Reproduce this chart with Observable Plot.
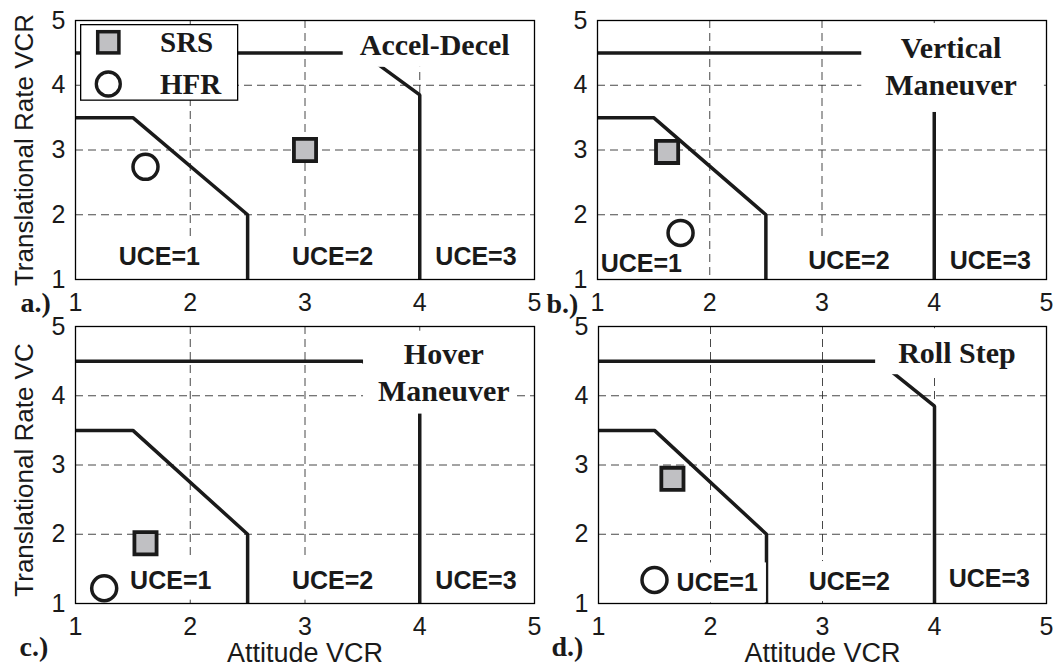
<!DOCTYPE html>
<html><head><meta charset="utf-8">
<script src="https://cdn.jsdelivr.net/npm/d3@7"></script>
<script src="https://cdn.jsdelivr.net/npm/@observablehq/plot@0.6"></script>
<style>
html,body{margin:0;padding:0;background:#fff;}
#chart{position:relative;width:1056px;height:666px;overflow:hidden;background:#fff;}
#chart svg.panel{position:absolute;left:0;top:0;}
#legend{position:absolute;left:80px;top:24px;}
</style></head><body><div id="chart"></div>
<script>
// ---------- data ----------
const xTicks = [1, 2, 3, 4, 5];
const yTicks = [1, 2, 3, 4, 5];
const gridValues = [2, 3, 4];
// UCE boundaries (same in all four panels)
const boundary12X = [1, 1.5, 2.5, 2.5];
const boundary12Y = [3.5, 3.5, 2, 1];
const boundary23X = [1, 3.5, 4, 4];
const boundary23Y = [4.5, 4.5, 3.85, 1];
// panels a..d
const panelLabels = ["a.)", "b.)", "c.)", "d.)"];
const titles = ["Accel-Decel", "Vertical\nManeuver", "Hover\nManeuver", "Roll Step"];
const titleX = [4.13, 4.15, 4.21, 4.2];
const titleY = [4.47, 3.85, 3.93, 4.47];
const srsX = [3.0, 1.62, 1.61, 1.66];
const srsY = [3.0, 2.97, 1.87, 2.8];
const hfrX = [1.61, 1.74, 1.25, 1.5];
const hfrY = [2.74, 1.72, 1.22, 1.34];
const uceLabels = ["UCE=1", "UCE=2", "UCE=3"];
const uceX = [[1.73, 3.24, 4.49], [1.39, 3.24, 4.5], [1.83, 3.24, 4.49], [2.06, 3.24, 4.49]];
const uceY = [[1.34, 1.34, 1.34], [1.24, 1.29, 1.29], [1.33, 1.33, 1.33], [1.29, 1.31, 1.35]];
const yLabels = ["Translational Rate VCR", null, "Translational Rate VC", null];
const xLabels = [null, null, "Attitude VCR", "Attitude VCR"];
const legendNames = ["SRS", "HFR"];

// ---------- layout / style ----------
const W = 1056, H = 666;
const layout = [
  {left: 75, right: 534, top: 20, bottom: 279, pdx: -55, pdy: 32, ydy: 0},
  {left: 597, right: 1046, top: 20, bottom: 279, pdx: -51, pdy: 33, ydy: 0},
  {left: 75, right: 534, top: 326, bottom: 603, pdx: -56, pdy: 52, ydy: 5},
  {left: 598, right: 1046, top: 326, bottom: 603, pdx: -47, pdy: 52, ydy: 0}
];
const titlePad = [[17, 17, 8, 6], [24, 27, 8, 11], [15, 7, 6, 7], [23, 23, 8, 5]]; // l r t b
const ucePad = [8, 8, 6, 6];
const SANS = "'Liberation Sans', Arial, sans-serif";
const SERIF = "'Liberation Serif', 'Times New Roman', serif";
const INK = "#1a1a1a";

const pts = (xs, ys) => xs.map((x, k) => ({x, y: ys[k]}));
const fmt = d => String(d);

function panel(i) {
  const L = layout[i];
  const uce = uceLabels.map((t, j) => ({x: uceX[i][j], y: uceY[i][j], t}));
  const marks = [
    Plot.ruleX(gridValues, {stroke: "#333", strokeWidth: 0.9, strokeDasharray: "8,5"}),
    Plot.ruleY(gridValues, {stroke: "#333", strokeWidth: 0.9, strokeDasharray: "8,5"}),
    Plot.line(pts(boundary12X, boundary12Y), {x: "x", y: "y", stroke: INK, strokeWidth: 3.5, strokeLinejoin: "miter", strokeLinecap: "butt"}),
    Plot.line(pts(boundary23X, boundary23Y), {x: "x", y: "y", stroke: INK, strokeWidth: 3.5, strokeLinejoin: "miter", strokeLinecap: "butt"}),
    Plot.text(uce, {x: "x", y: "y", text: "t", fontFamily: SANS, fontWeight: "bold", fontSize: 25, fill: INK,
      textAnchor: "middle", lineAnchor: "middle"}),
    Plot.text([{x: titleX[i], y: titleY[i], t: titles[i]}], {x: "x", y: "y", text: "t", fontFamily: SERIF, fontWeight: "bold",
      fontSize: 30, fill: INK, textAnchor: "middle", lineAnchor: "bottom", lineHeight: 1.23}),
    Plot.dot([{x: hfrX[i], y: hfrY[i]}], {x: "x", y: "y", symbol: "circle", r: 12.5, fill: "none", stroke: INK, strokeWidth: 3.5}),
    Plot.dot([{x: srsX[i], y: srsY[i]}], {x: "x", y: "y", symbol: "square", r: 12.5, fill: "#c0c0c3", stroke: INK, strokeWidth: 3.8}),
    Plot.axisX(xTicks, {tickSize: 0, tickPadding: 14, label: null, fontSize: 25, fontFamily: SANS, tickFormat: fmt}),
    Plot.axisY(yTicks, {tickSize: 0, tickPadding: 10, label: null, fontSize: 25, fontFamily: SANS, tickFormat: fmt}),
    Plot.text([panelLabels[i]], {text: d => d, frameAnchor: "bottom-left", dx: L.pdx, dy: L.pdy, textAnchor: "start",
      lineAnchor: "bottom", fontFamily: SERIF, fontWeight: "bold", fontSize: 28, fill: INK})
  ];
  if (yLabels[i]) marks.push(Plot.text([yLabels[i]], {text: d => d, frameAnchor: "left", rotate: -90, dx: -51, dy: L.ydy,
    textAnchor: "middle", lineAnchor: "middle", fontFamily: SANS, fontSize: 26, fill: INK}));
  if (xLabels[i]) marks.push(Plot.text([xLabels[i]], {text: d => d, frameAnchor: "bottom", dy: 58,
    textAnchor: "middle", lineAnchor: "bottom", fontFamily: SANS, fontSize: 27, fill: INK}));
  marks.push(Plot.frame({stroke: "#000", strokeWidth: 1.3}));
  return Plot.plot({
    width: W, height: H,
    marginLeft: L.left, marginRight: W - L.right, marginTop: L.top, marginBottom: H - L.bottom,
    x: {domain: [1, 5], label: null},
    y: {domain: [1, 5], label: null},
    style: {background: "transparent", overflow: "visible", fontFamily: SANS, fontSize: "25px", color: INK},
    marks
  });
}

// white background boxes behind the in-plot annotations (UCE labels, titles), sized from the rendered text
function addBoxes(svg, i) {
  const NS = "http://www.w3.org/2000/svg";
  const key = s => s.replace(/\s+/g, "");
  const uceSet = new Set(uceLabels.map(key));
  const titleKey = key(titles[i]);
  Array.from(svg.querySelectorAll("text")).forEach(t => {
    const k = key(t.textContent);
    const pad = uceSet.has(k) ? ucePad : k === titleKey ? titlePad[i] : null;
    if (!pad) return;
    const b = t.getBBox();
    const r = document.createElementNS(NS, "rect");
    r.setAttribute("x", b.x - pad[0]);
    r.setAttribute("y", b.y - pad[2]);
    r.setAttribute("width", b.width + pad[0] + pad[1]);
    r.setAttribute("height", b.height + pad[2] + pad[3]);
    r.setAttribute("fill", "#fff");
    r.setAttribute("stroke", "none");
    const tr = t.getAttribute("transform");
    if (tr) r.setAttribute("transform", tr);
    t.parentNode.insertBefore(r, t);
  });
}

const chart = document.getElementById("chart");
for (let i = 0; i < 4; i++) {
  const svg = panel(i);
  svg.classList.add("panel");
  chart.appendChild(svg);
  addBoxes(svg, i);
}

// legend (panel a)
const lg = d3.select(chart).append("svg").attr("id", "legend").attr("width", 160).attr("height", 78);
lg.append("rect").attr("x", 0.65).attr("y", 0.65).attr("width", 157).attr("height", 75.5)
  .attr("fill", "#fff").attr("stroke", "#000").attr("stroke-width", 1.3);
const lgY = [18.3, 60];
legendNames.forEach((name, k) => {
  if (k === 0) {
    lg.append("rect").attr("x", 28.3 - 10.6).attr("y", lgY[k] - 10.6).attr("width", 21.2).attr("height", 21.2)
      .attr("fill", "#c0c0c3").attr("stroke", INK).attr("stroke-width", 3.5);
  } else {
    lg.append("circle").attr("cx", 28.3).attr("cy", lgY[k]).attr("r", 12)
      .attr("fill", "none").attr("stroke", INK).attr("stroke-width", 3.3);
  }
  lg.append("text").attr("x", 80).attr("y", lgY[k] + 9.5).text(name)
    .attr("font-family", SERIF).attr("font-weight", "bold").attr("font-size", 29).attr("fill", INK);
});
</script></body></html>
